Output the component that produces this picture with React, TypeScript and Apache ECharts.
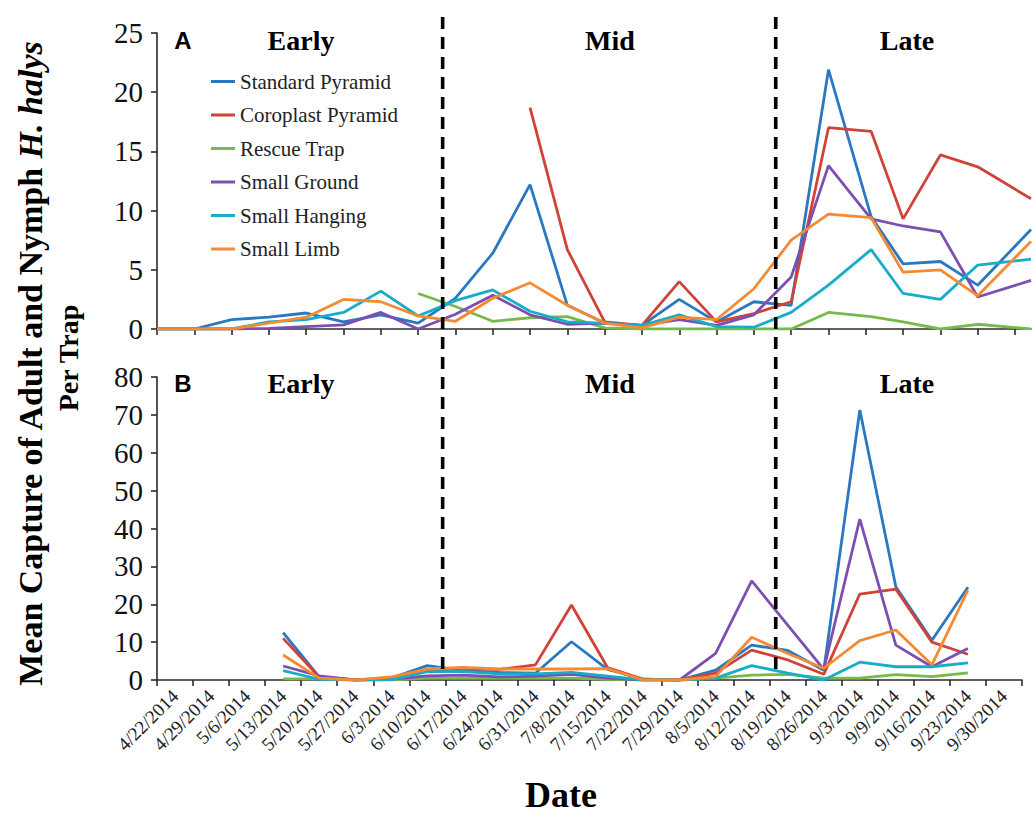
import React, { useEffect, useRef } from 'react';
import * as echarts from 'echarts';

const seriesNames = ['Standard Pyramid', 'Coroplast Pyramid', 'Rescue Trap', 'Small Ground', 'Small Hanging', 'Small Limb'];
const seriesColors = ['#2a78c0', '#cf4339', '#77b94a', '#7c4fb0', '#17adc8', '#f68a30'];

// Panel A: sampling dates (plotted on a date scale, weekly ticks)
const datesA = ['4/22/2014', '4/29/2014', '5/6/2014', '5/13/2014', '5/20/2014', '5/27/2014', '6/3/2014', '6/10/2014',
  '6/17/2014', '6/24/2014', '6/31/2014', '7/8/2014', '7/15/2014', '7/22/2014', '7/29/2014', '8/5/2014', '8/12/2014',
  '8/19/2014', '8/26/2014', '9/3/2014', '9/9/2014', '9/16/2014', '9/23/2014', '10/3/2014'];
const standardA = [0, 0, 0.8, 1.0, 1.35, 0.6, 1.2, 0.5, 2.6, 6.4, 12.2, 2.0, 0.5, 0.3, 2.5, 0.6, 2.3, 2.0, 21.9, 9.5, 5.5, 5.7, 3.7, 8.4];
const coroplastA = [null, null, null, null, null, null, null, null, null, null, 18.7, 6.7, 0.6, 0.3, 4.0, 0.6, 1.3, 2.3, 17.0, 16.7, 9.3, 14.7, 13.7, 11.0];
const rescueA = [null, null, null, null, null, null, null, 3.0, 1.9, 0.65, 0.95, 1.05, 0.1, 0, 0, 0, 0, 0, 1.4, 1.05, 0.6, 0, 0.4, 0];
const groundA = [0, 0, 0, 0.05, 0.2, 0.35, 1.4, 0, 1.25, 2.85, 1.2, 0.4, 0.5, 0.3, 0.8, 0.3, 1.2, 4.4, 13.8, 9.3, 8.7, 8.2, 2.7, 4.1];
const hangingA = [0, 0, 0, 0.6, 0.8, 1.4, 3.2, 1.1, 2.4, 3.3, 1.5, 0.6, 0.5, 0.3, 1.2, 0.2, 0.15, 1.4, 3.7, 6.7, 3.0, 2.5, 5.4, 5.9];
const limbA = [0, 0, 0, 0.5, 1.0, 2.5, 2.3, 1.1, 0.65, 2.6, 3.9, 2.0, 0.5, 0.1, 1.0, 0.8, 3.4, 7.5, 9.7, 9.4, 4.8, 5.0, 2.8, 7.4];

// Panel B: category axis
const datesB = ['4/22/2014', '4/29/2014', '5/6/2014', '5/13/2014', '5/20/2014', '5/27/2014', '6/3/2014', '6/10/2014',
  '6/17/2014', '6/24/2014', '6/31/2014', '7/8/2014', '7/15/2014', '7/22/2014', '7/29/2014', '8/5/2014', '8/12/2014',
  '8/19/2014', '8/26/2014', '9/3/2014', '9/9/2014', '9/16/2014', '9/23/2014', '9/30/2014'];
const standardB = [null, null, null, 12.5, 0.8, 0, 0.5, 3.8, 2.5, 2.0, 1.8, 10.1, 2.8, 0.2, 0, 2.6, 9.2, 7.8, 2.6, 71.3, 24.6, 10.5, 24.5, null];
const coroplastB = [null, null, null, 11.0, 0.8, 0, 0.3, 2.5, 3.0, 2.8, 4.0, 19.8, 3.3, 0.2, 0, 1.8, 7.9, 5.3, 1.5, 22.7, 24.0, 10.0, 6.8, null];
const rescueB = [null, null, null, 0.3, 0.3, 0, 0, 0.5, 0.5, 0.5, 0.5, 0.5, 0.2, 0, 0, 0.5, 1.3, 1.5, 0.5, 0.5, 1.4, 0.9, 1.9, null];
const groundB = [null, null, null, 3.7, 1.1, 0, 0.2, 1.1, 1.3, 0.8, 1.0, 1.5, 0.5, 0, 0, 7.0, 26.2, 14.5, 2.8, 42.5, 9.2, 3.5, 8.3, null];
const hangingB = [null, null, null, 2.5, 0.2, 0, 0.1, 2.2, 2.2, 1.6, 1.6, 2.0, 1.0, 0, 0, 0.5, 3.8, 1.8, 0, 4.7, 3.5, 3.5, 4.5, null];
const limbB = [null, null, null, 6.6, 0.5, 0, 0.8, 2.9, 3.3, 2.9, 2.9, 2.9, 3.0, 0, 0, 0.9, 11.3, 7.0, 3.1, 10.4, 13.2, 4.0, 23.7, null];

const phaseLabels = ['Early', 'Mid', 'Late'];
const panelLetters = ['A', 'B'];
const phaseBoundaryDays = [53.6, 116.1];
const yTicksA = { min: 0, max: 25, interval: 5 };
const yTicksB = { min: 0, max: 80, interval: 10 };

const SERIF = '"Liberation Serif", "Times New Roman", serif';

const dayOf = (s: string) => {
  const [m, d, y] = s.split('/').map(Number);
  return (Date.UTC(y, m - 1, d) - Date.UTC(2014, 3, 22)) / 86400000;
};

export default function App() {
  const ref = useRef<HTMLDivElement>(null);
  useEffect(() => {
    if (!ref.current) return;
    const chart = echarts.init(ref.current, null, { renderer: 'svg' });
    const valuesA = [standardA, coroplastA, rescueA, groundA, hangingA, limbA];
    const valuesB = [standardB, coroplastB, rescueB, groundB, hangingB, limbB];
    const daysA = datesA.map(dayOf);
    const weekTicks = Array.from({ length: 24 }, (_, k) => 7 * k);
    const axisLine = { show: true, lineStyle: { color: '#2b2b2b', width: 1.6 } };
    const axisTick = { show: true, length: 6, lineStyle: { color: '#2b2b2b', width: 1.6 } };
    const yLabel = { fontFamily: SERIF, fontSize: 29, color: '#111', margin: 14 };

    const seriesA = valuesA.map((vals, i) => ({
      name: seriesNames[i], type: 'line', xAxisIndex: 0, yAxisIndex: 0, symbol: 'none',
      lineStyle: { width: 2.8, color: seriesColors[i] }, itemStyle: { color: seriesColors[i] },
      data: vals.map((v, k) => [daysA[k], v]).filter((p) => p[1] !== null),
    }));
    const seriesB = valuesB.map((vals, i) => ({
      name: seriesNames[i], type: 'line', xAxisIndex: 1, yAxisIndex: 1, symbol: 'none',
      lineStyle: { width: 2.8, color: seriesColors[i] }, itemStyle: { color: seriesColors[i] },
      data: vals,
    }));

    chart.setOption({
      animation: false,
      backgroundColor: '#fff',
      grid: [
        { left: 157, top: 33, width: 874, height: 296 },
        { left: 157, top: 377, width: 865, height: 303 },
      ],
      legend: {
        data: seriesNames, orient: 'vertical', left: 206, top: 66,
        icon: 'rect', itemWidth: 24, itemHeight: 3, itemGap: 12.5,
        textStyle: { fontFamily: SERIF, fontSize: 21, color: '#222' },
      },
      xAxis: [
        {
          type: 'value', gridIndex: 0, min: 0, max: 164, interval: 7,
          axisLine, axisTick: { ...axisTick, customValues: weekTicks },
          axisLabel: { show: false }, splitLine: { show: false },
        },
        {
          type: 'category', gridIndex: 1, data: datesB, boundaryGap: true,
          axisLine, axisTick: { ...axisTick, alignWithLabel: false, interval: 0 },
          axisLabel: { interval: 0, rotate: 45, fontFamily: SERIF, fontSize: 19, color: '#222', margin: 13 },
          splitLine: { show: false },
        },
      ],
      yAxis: [
        { type: 'value', gridIndex: 0, ...yTicksA, axisLine, axisTick, axisLabel: yLabel, splitLine: { show: false } },
        { type: 'value', gridIndex: 1, ...yTicksB, axisLine, axisTick, axisLabel: yLabel, splitLine: { show: false } },
      ],
      series: [...seriesA, ...seriesB],
    });

    const lineXs = phaseBoundaryDays.map((d) => chart.convertToPixel({ xAxisIndex: 0 }, d) as number);
    const phaseX = [301, 610, 907];
    const panelY = [40, 383];
    const graphics: any[] = [];
    lineXs.forEach((x) => {
      graphics.push({
        type: 'line', z: 50, shape: { x1: x, y1: 17, x2: x, y2: 673 },
        style: { stroke: '#000', lineWidth: 3.6, lineDash: [12, 8] },
      });
    });
    panelY.forEach((y, p) => {
      graphics.push({
        type: 'text', x: 183, y, z: 60,
        style: { text: panelLetters[p], font: 'bold 24px "Liberation Sans", Arial, sans-serif', fill: '#000', align: 'center', verticalAlign: 'middle' },
      });
      phaseLabels.forEach((t, j) => {
        graphics.push({
          type: 'text', x: phaseX[j], y, z: 60,
          style: { text: t, font: `bold 28px ${SERIF}`, fill: '#000', align: 'center', verticalAlign: 'middle' },
        });
      });
    });
    graphics.push({
      type: 'text', x: 30, y: 364, rotation: Math.PI / 2, z: 60,
      style: {
        text: '{n|Mean Capture of Adult and Nymph }{i|H. halys}',
        align: 'center', verticalAlign: 'middle', fill: '#000',
        rich: {
          n: { fontFamily: SERIF, fontWeight: 'bold', fontSize: 34, fill: '#000' },
          i: { fontFamily: SERIF, fontWeight: 'bold', fontStyle: 'italic', fontSize: 34, fill: '#000' },
        },
      },
    });
    graphics.push({
      type: 'text', x: 68, y: 358, rotation: Math.PI / 2, z: 60,
      style: { text: 'Per Trap', font: `bold 28px ${SERIF}`, fill: '#000', align: 'center', verticalAlign: 'middle' },
    });
    graphics.push({
      type: 'text', x: 561, y: 795, z: 60,
      style: { text: 'Date', font: `bold 36px ${SERIF}`, fill: '#000', align: 'center', verticalAlign: 'middle' },
    });
    chart.setOption({ graphic: graphics });

    return () => chart.dispose();
  }, []);
  return <div ref={ref} style={{ position: 'fixed', left: 0, top: 0, width: 1033, height: 817, background: '#fff' }} />;
}
